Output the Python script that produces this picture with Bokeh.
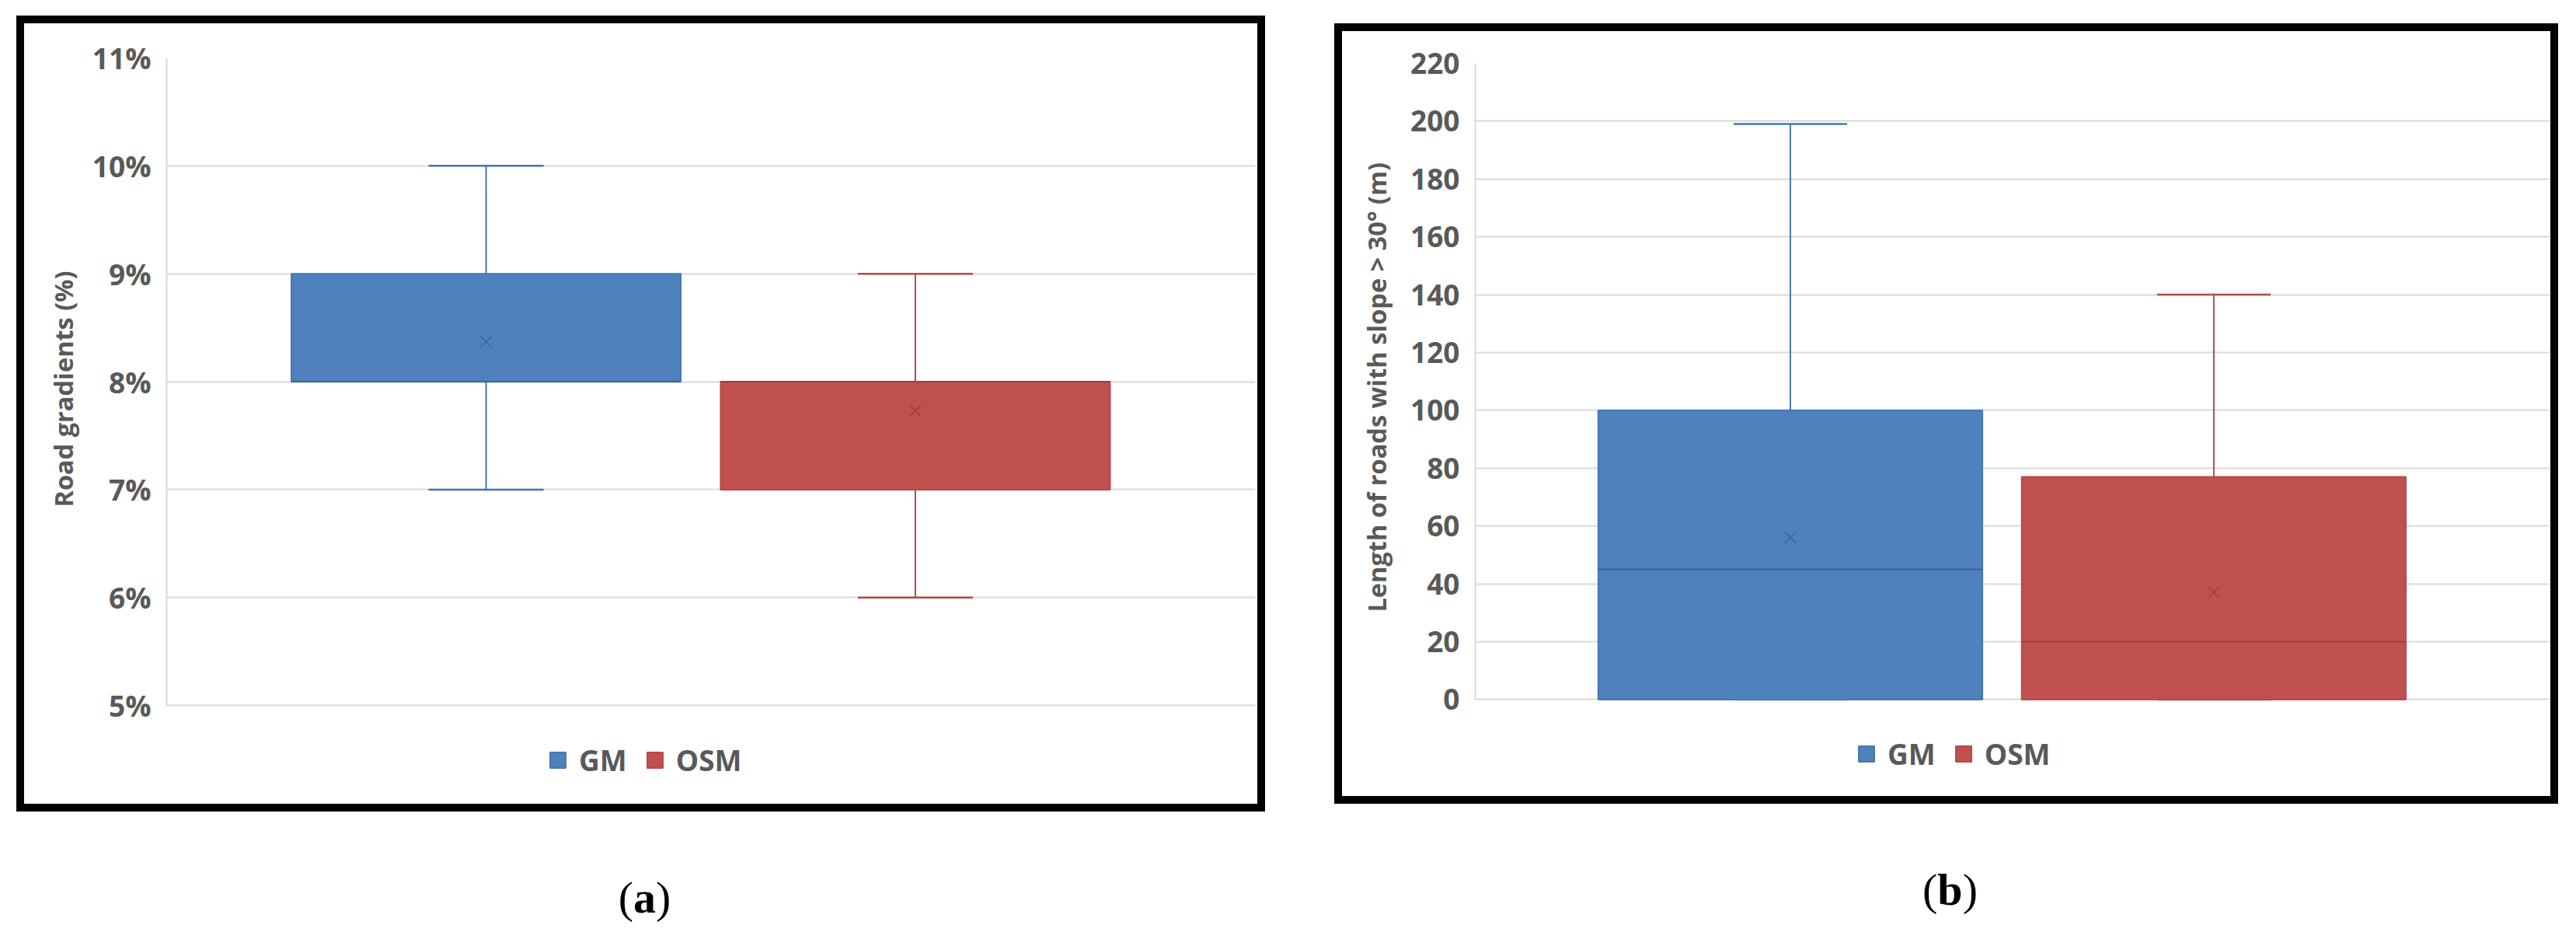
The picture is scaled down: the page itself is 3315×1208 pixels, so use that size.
from bokeh.plotting import figure
from bokeh.models import (Range1d, FixedTicker, PrintfTickFormatter, Legend, LegendItem,
                          Spacer, ColumnDataSource, Div)
from bokeh.layouts import row, column
from bokeh.transform import dodge
from bokeh.embed import file_html
from bokeh.resources import INLINE

# ---------------- data ----------------
categories = ["GM", "OSM"]

# (a) Road gradients (%)
a_min = [7, 6]
a_q1 = [8, 7]
a_median = [8, 8]
a_q3 = [9, 8]
a_max = [10, 9]
a_mean = [8.37, 7.73]
a_ticks = [5, 6, 7, 8, 9, 10, 11]

# (b) Length of roads with slope > 30 deg (m)
b_min = [0, 0]
b_q1 = [0, 0]
b_median = [45, 20]
b_q3 = [100, 77]
b_max = [199, 140]
b_mean = [56, 37]
b_ticks = [0, 20, 40, 60, 80, 100, 120, 140, 160, 180, 200, 220]

panel_labels = ["a", "b"]

# ---------------- styles ----------------
FILLS = ["#4F81BD", "#C0504D"]
LINES = ["#4677B3", "#B84A47"]
DARKS = ["#3A6597", "#9E3C3A"]
TXT = "#595959"
GRID = "#D9D9D9"
FONT = "Open Sans"
FRAME_CSS = {"border": "10px solid black", "box-sizing": "content-box"}


def make_panel(W, H, ml, mr, mt, mb, yr, ybounds, ticks, fmt, ytitle, title_offset,
               title_standoff, legend_loc, mins, q1s, meds, q3s, maxs, means):
    # the frame reaches below the value axis to hold the legend (Excel chart area)
    p = figure(width=W, height=H, x_range=Range1d(0.256, 2.792), y_range=Range1d(*yr),
               x_axis_location=None, toolbar_location=None, output_backend="svg",
               min_border_left=ml, min_border_right=mr, min_border_top=mt,
               min_border_bottom=mb, background_fill_color="white",
               border_fill_color="white", outline_line_color=None, styles=FRAME_CSS,
               title=ytitle, title_location="left")
    pos = [i + 1 for i in range(len(categories))]
    src = ColumnDataSource(dict(x=pos, cat=categories, lo=mins, q1=q1s, med=meds,
                                q3=q3s, hi=maxs, mean=means, fill=FILLS, line=LINES,
                                dark=DARKS))
    # whiskers
    p.segment(x0="x", y0="q3", x1="x", y1="hi", line_color="line", line_width=2, source=src)
    p.segment(x0="x", y0="lo", x1="x", y1="q1", line_color="line", line_width=2, source=src)
    p.segment(x0=dodge("x", -0.134), y0="hi", x1=dodge("x", 0.134), y1="hi",
              line_color="line", line_width=2.5, source=src)
    p.segment(x0=dodge("x", -0.134), y0="lo", x1=dodge("x", 0.134), y1="lo",
              line_color="line", line_width=2.5, source=src)
    # boxes
    boxes = p.vbar(x="x", width=0.907, bottom="q1", top="q3", fill_color="fill",
                   line_color="line", line_width=2, source=src)
    # median
    p.segment(x0=dodge("x", -0.4535), y0="med", x1=dodge("x", 0.4535), y1="med",
              line_color="dark", line_width=2, source=src)
    # mean
    p.scatter(x="x", y="mean", marker="x", size=20, line_color="dark",
              line_width=1.5, source=src)

    ax = p.yaxis[0]
    ax.bounds = ybounds
    ax.ticker = FixedTicker(ticks=ticks)
    ax.formatter = fmt
    ax.axis_line_color = GRID
    ax.axis_line_width = 2
    ax.major_tick_line_color = None
    ax.minor_tick_line_color = None
    ax.major_tick_out = 0
    ax.major_label_text_font = FONT
    ax.major_label_text_font_size = "37px"
    ax.major_label_text_font_style = "bold"
    ax.major_label_text_color = TXT
    ax.major_label_standoff = 20

    # value-axis title (left title, placed along the value axis)
    t = p.title
    t.text_font = FONT
    t.text_font_size = "32.5px"
    t.text_font_style = "bold"
    t.text_color = TXT
    t.align = "left"
    t.offset = title_offset
    t.standoff = title_standoff

    p.xgrid.visible = False
    g = p.ygrid[0]
    g.ticker = FixedTicker(ticks=ticks)
    g.grid_line_color = GRID
    g.grid_line_width = 2

    items = [LegendItem(label=c, renderers=[boxes], index=i) for i, c in enumerate(categories)]
    lg = Legend(items=items, location=legend_loc, orientation="horizontal",
                glyph_width=25, glyph_height=25, label_standoff=15, spacing=23,
                padding=0, margin=0, border_line_color=None, background_fill_alpha=0,
                label_text_font=FONT, label_text_font_size="37px",
                label_text_font_style="bold", label_text_color=TXT)
    p.add_layout(lg, "center")
    return p


def make_label(W, H, letter):
    html = ("<div style=\"width:%dpx;text-align:center;font-family:'Liberation Serif';"
            "font-size:58px;line-height:60px;padding-top:76px;color:black\">"
            "(<b>%s</b>)</div>" % (W, letter))
    return Div(text=html, width=W, height=H)


pa = make_panel(1587, 1004, 183, 23, 44, 8, (4, 11), (5, 11), a_ticks,
                PrintfTickFormatter(format="%d%%"), "Road gradients (%)", 394, 24,
                (491, 43),
                a_min, a_q1, a_median, a_q3, a_max, a_mean)
pb = make_panel(1555, 984, 171, 22, 41, 33, (-30, 220), (0, 220), b_ticks,
                PrintfTickFormatter(format="%d"), "Length of roads with slope > 30° (m)",
                224, 38, (491, 16),
                b_min, b_q1, b_median, b_q3, b_max, b_mean)

la = make_label(1607, 148, panel_labels[0])
lb = make_label(1575, 150, panel_labels[1])

layout = row(Spacer(width=21),
             column(Spacer(height=20), pa, la),
             Spacer(width=79),
             column(Spacer(height=30), pb, lb))

open("out.html", "w").write(file_html(layout, INLINE))
